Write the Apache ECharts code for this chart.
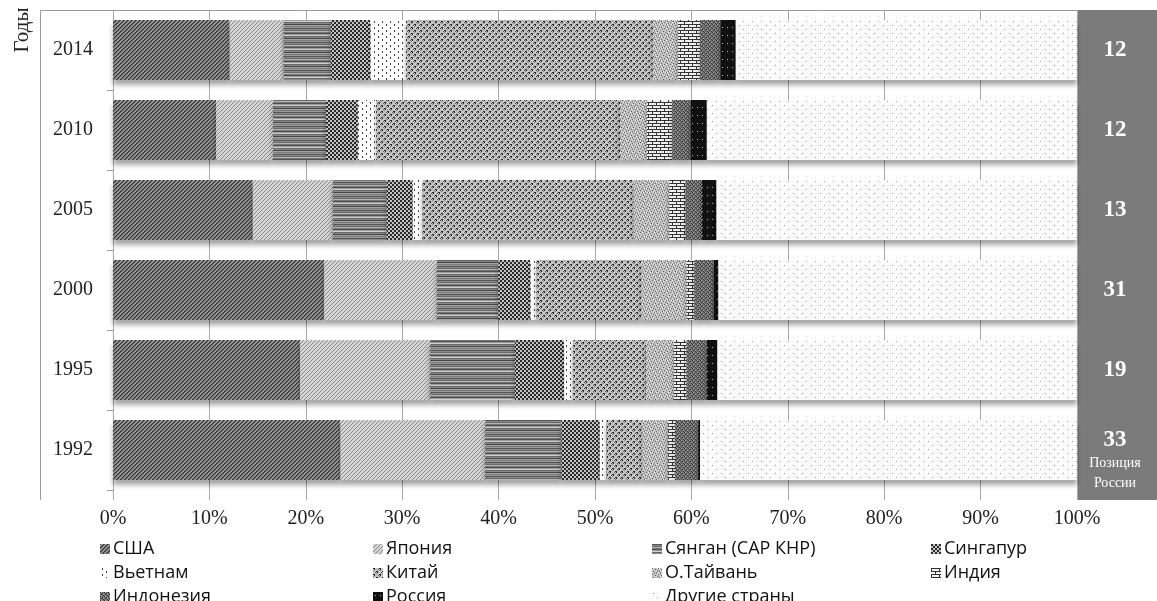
<!DOCTYPE html>
<html>
<head>
<meta charset="utf-8">
<script src="https://cdn.jsdelivr.net/npm/echarts@6/dist/echarts.min.js"></script>
<style>
html,body{margin:0;padding:0;background:#fff;}
#chart{width:1157px;height:601px;}
</style>
</head>
<body>
<div id="chart"></div>
<script>
// ---- data ----
const years = ['1992', '1995', '2000', '2005', '2010', '2014'];
const seriesNames = ['США', 'Япония', 'Сянган (САР КНР)', 'Сингапур', 'Вьетнам', 'Китай', 'О.Тайвань', 'Индия', 'Индонезия', 'Россия', 'Другие страны'];
const usa    = [23.6, 19.4, 21.9, 14.5, 10.7, 12.1];
const japan  = [15.0, 13.5, 11.7, 8.3, 5.9, 5.6];
const hk     = [7.9, 8.8, 6.4, 5.6, 5.5, 4.9];
const sing   = [4.0, 5.1, 3.3, 2.7, 3.3, 4.1];
const viet   = [0.7, 0.9, 0.6, 1.0, 1.9, 3.7];
const china  = [3.7, 7.6, 10.9, 21.9, 25.3, 25.6];
const taiwan = [2.7, 2.9, 4.7, 3.7, 2.8, 2.6];
const india  = [0.7, 1.3, 0.8, 1.7, 2.6, 2.3];
const indo   = [2.4, 2.1, 2.0, 1.7, 1.9, 2.1];
const russia = [0.2, 1.1, 0.5, 1.5, 1.7, 1.6];
const others = [39.1, 37.3, 37.2, 37.4, 38.4, 35.4];
const russiaPos = [33, 19, 31, 13, 12, 12];
const xTicks = [0, 10, 20, 30, 40, 50, 60, 70, 80, 90, 100];

// ---- patterns ----
function pat(w, h, draw) {
  const c = document.createElement('canvas');
  c.width = w; c.height = h;
  const g = c.getContext('2d');
  draw(g, w, h);
  return { image: c, repeat: 'repeat' };
}
function px(g, x, y, col) { g.fillStyle = col; g.fillRect(x, y, 1, 1); }

const patterns = [
  // США: dark diagonal hatch
  pat(4, 4, (g) => {
    g.fillStyle = '#959595'; g.fillRect(0, 0, 4, 4);
    for (let i = 0; i < 4; i++) { px(g, i, 3 - i, '#333'); px(g, (i + 1) % 4, 3 - i, '#606060'); }
  }),
  // Япония: light diagonal hatch
  pat(4, 4, (g) => {
    g.fillStyle = '#d4d4d4'; g.fillRect(0, 0, 4, 4);
    for (let i = 0; i < 4; i++) { px(g, i, 3 - i, '#8a8a8a'); }
  }),
  // Сянган: horizontal stripes
  pat(4, 14, (g) => {
    const rows = ['#555', '#8a8a8a', '#6a6a6a', '#b5b5b5', '#777', '#505050', '#9a9a9a', '#cfcfcf', '#666', '#888', '#444', '#a5a5a5', '#7a7a7a', '#999'];
    rows.forEach((c, i) => { g.fillStyle = c; g.fillRect(0, i, 4, 1); });
  }),
  // Сингапур: checkerboard
  pat(4, 4, (g) => {
    g.fillStyle = '#c4c4c4'; g.fillRect(0, 0, 4, 4);
    g.fillStyle = '#2a2a2a'; g.fillRect(0, 0, 2, 2); g.fillRect(2, 2, 2, 2);
  }),
  // Вьетнам: white with dotted vertical dashes
  pat(8, 6, (g) => {
    g.fillStyle = '#ffffff'; g.fillRect(0, 0, 8, 6);
    g.fillStyle = '#444'; g.fillRect(2, 0, 1, 2); g.fillRect(6, 3, 1, 2);
  }),
  // Китай: honeycomb dots
  pat(6, 6, (g) => {
    g.fillStyle = '#c4c4c4'; g.fillRect(0, 0, 6, 6);
    g.fillStyle = '#262626';
    g.fillRect(0, 0, 2, 1); g.fillRect(3, 3, 2, 1); g.fillRect(1, 1, 1, 1); g.fillRect(4, 4, 1, 1);
    px(g, 5, 1, '#5a5a5a'); px(g, 2, 4, '#5a5a5a'); px(g, 0, 2, '#777'); px(g, 3, 5, '#777');
  }),
  // О.Тайвань: light texture
  pat(6, 6, (g) => {
    g.fillStyle = '#bcbcbc'; g.fillRect(0, 0, 6, 6);
    [[0,0],[3,1],[1,3],[4,4],[2,5],[5,2]].forEach(p => px(g, p[0], p[1], '#666'));
    [[1,0],[4,2],[0,4],[3,5],[5,0],[2,2]].forEach(p => px(g, p[0], p[1], '#efefef'));
  }),
  // Индия: brick
  pat(8, 6, (g) => {
    g.fillStyle = '#f0f0f0'; g.fillRect(0, 0, 8, 6);
    g.fillStyle = '#333';
    g.fillRect(0, 0, 8, 1); g.fillRect(0, 3, 8, 1);
    g.fillRect(0, 0, 1, 3); g.fillRect(4, 3, 1, 3);
  }),
  // Индонезия: dark grainy
  pat(4, 4, (g) => {
    g.fillStyle = '#747474'; g.fillRect(0, 0, 4, 4);
    [[0,0],[2,1],[1,2],[3,3]].forEach(p => px(g, p[0], p[1], '#2a2a2a'));
    [[1,0],[3,2]].forEach(p => px(g, p[0], p[1], '#b0b0b0'));
  }),
  // Россия: black with white dots
  pat(5, 8, (g) => {
    g.fillStyle = '#111'; g.fillRect(0, 0, 5, 8);
    px(g, 2, 3, '#bbbbbb');
  }),
  // Другие страны: white with sparse dots
  pat(9, 8, (g) => {
    g.fillStyle = '#fcfcfc'; g.fillRect(0, 0, 9, 8);
    px(g, 1, 1, '#8a8a8a'); px(g, 5, 5, '#a0a0a0');
  })
];

const dataSets = [usa, japan, hk, sing, viet, china, taiwan, india, indo, russia, others];

const series = seriesNames.map((name, i) => ({
  name: name,
  type: 'bar',
  stack: 'total',
  barCategoryGap: '25%',
  data: dataSets[i],
  itemStyle: {
    color: patterns[i],
    shadowColor: 'rgba(0,0,0,0.35)',
    shadowBlur: 5,
    shadowOffsetY: 5
  },
  emphasis: { disabled: true }
}));

// legend layout: 4 columns x 3 rows (Excel-style grid)
const legendColsX = [100, 373, 652, 931];
const legendRowsY = [540, 564, 588];

const legends = seriesNames.map((name, i) => ({
  orient: 'horizontal',
  left: legendColsX[i % 4],
  top: legendRowsY[Math.floor(i / 4)],
  padding: 0,
  itemWidth: 10,
  itemHeight: 10,
  itemGap: 0,
  icon: 'rect',
  data: [name],
  selectedMode: false,
  textStyle: { fontFamily: 'Open Sans', fontSize: 18, color: '#111', padding: [0, 0, 0, -2] }
}));

const chart = echarts.init(document.getElementById('chart'));
chart.setOption({
  animation: false,
  backgroundColor: '#ffffff',
  grid: { left: 113, right: 80, top: 10, bottom: 111, containLabel: false },
  xAxis: {
    type: 'value',
    min: xTicks[0],
    max: xTicks[xTicks.length - 1],
    interval: 10,
    axisLine: { show: false },
    axisTick: { show: true, length: 10, lineStyle: { color: '#a8a8a8' } },
    splitLine: { show: true, lineStyle: { color: '#a8a8a8', width: 1 } },
    axisLabel: {
      formatter: '{value}%',
      fontFamily: 'Liberation Serif',
      fontSize: 20,
      color: '#222',
      margin: 19
    }
  },
  yAxis: [
    {
      type: 'category',
      data: years,
      axisLine: { show: true, lineStyle: { color: '#a8a8a8' } },
      axisTick: { show: true, length: 6, lineStyle: { color: '#999' } },
      axisLabel: {
        fontFamily: 'Liberation Serif',
        fontSize: 20,
        color: '#222',
        margin: 20
      }
    },
    {
      type: 'category',
      data: years,
      position: 'right',
      axisLine: { show: false },
      axisTick: { show: false },
      axisLabel: {
        margin: 38,
        align: 'center',
        formatter: function (v, idx) {
          const n = russiaPos[idx];
          if (idx === 0) return '{e|}\n{n|' + n + '}\n{s|Позиция}\n{s|России}';
          return '{n|' + n + '}';
        },
        rich: {
          e: { height: 20, lineHeight: 20 },
          n: { fontFamily: 'Liberation Serif', fontWeight: 'bold', fontSize: 23, color: '#ffffff', lineHeight: 26, align: 'center' },
          s: { fontFamily: 'Liberation Serif', fontSize: 14, color: '#ffffff', lineHeight: 20, align: 'center' }
        }
      }
    }
  ],
  legend: legends,
  graphic: [
    { type: 'rect', z: -10, shape: { x: 1077, y: 10, width: 80, height: 490 }, style: { fill: '#7b7b7b' } },
    { type: 'polyline', z: 10, shape: { points: [[40.5, 500], [40.5, 10.5], [1077, 10.5]] }, style: { stroke: '#9a9a9a', lineWidth: 1, fill: null } },
    { type: 'text', x: 22, y: 30, rotation: Math.PI / 2, style: { text: 'Годы', fontFamily: 'Liberation Serif', fontSize: 21, fill: '#222', align: 'center', verticalAlign: 'middle' } }
  ],
  series: series
});
</script>
</body>
</html>
